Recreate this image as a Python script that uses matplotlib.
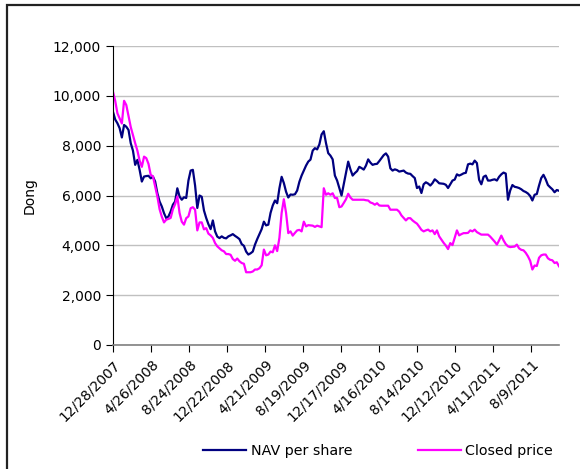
import numpy as np
import pandas as pd
import matplotlib
matplotlib.use("Agg")
import matplotlib.pyplot as plt
from matplotlib.patches import Rectangle

# weekly observations starting 28 Dec 2007
start_date = "2007-12-28"
tick_step_days = 120
num_ticks = 12

nav_per_share = [
    9360, 9050, 8900, 8700, 8330, 8830, 8760, 8630, 8100, 7800,
    7230, 7430, 7030, 6560, 6760, 6780, 6790, 6690, 6760, 6560,
    6090, 5760, 5560, 5290, 5090, 5160, 5360, 5630, 5760, 6290,
    5960, 5830, 5930, 5900, 6600, 7000, 7030, 6400, 5500, 6000,
    5950, 5400, 5100, 4850, 4650, 5000, 4560, 4350, 4290, 4360,
    4300, 4280, 4360, 4400, 4450, 4380, 4320, 4250, 4050, 3980,
    3750, 3630, 3680, 3750, 4030, 4250, 4450, 4650, 4950, 4800,
    4830, 5300, 5600, 5800, 5690, 6290, 6750, 6500, 6150, 5920,
    6040, 6030, 6050, 6200, 6550, 6800, 7000, 7200, 7360, 7440,
    7800, 7900, 7850, 8050, 8450, 8580, 8100, 7700, 7600, 7450,
    6800, 6600, 6300, 6000, 6450, 6900, 7360, 7050, 6800, 6900,
    6980, 7150, 7100, 7040, 7200, 7450, 7320, 7230, 7260, 7270,
    7380, 7500, 7620, 7690, 7560, 7090, 7000, 7050, 7020, 6960,
    6980, 7000, 6920, 6880, 6870, 6780, 6700, 6300, 6360, 6100,
    6450, 6530, 6480, 6400, 6500, 6650, 6580, 6490, 6480, 6470,
    6430, 6300, 6450, 6600, 6640, 6850, 6800, 6840, 6890, 6910,
    7250, 7280, 7250, 7400, 7300, 6630, 6450, 6750, 6800, 6600,
    6600, 6630, 6650, 6600, 6750, 6850, 6920, 6880, 5830, 6200,
    6420, 6350, 6330, 6300, 6250, 6180, 6140, 6080, 5980, 5800,
    6030, 6060, 6400, 6700, 6830, 6650, 6420, 6330, 6250, 6130,
    6220, 6190,
]

closed_price = [
    10160, 9800, 9300, 9100, 8890, 9800, 9630, 9200, 8750, 8420,
    8100, 7800, 7400, 7150, 7560, 7500, 7270, 6830, 6770, 6360,
    5960, 5450, 5150, 4920, 5030, 5060, 5100, 5450, 5650, 5960,
    5300, 4950, 4830, 5090, 5160, 5490, 5530, 5430, 4600, 4920,
    4920, 4640, 4690, 4470, 4400, 4300, 4090, 3960, 3880, 3800,
    3760, 3650, 3650, 3620, 3450, 3380, 3470, 3360, 3290, 3260,
    2920, 2920, 2920, 2950, 3030, 3030, 3080, 3200, 3830, 3600,
    3630, 3750, 3720, 4000, 3770, 4300, 5300, 5850, 5300, 4490,
    4560, 4390, 4500, 4600, 4620, 4560, 4950, 4760, 4810, 4800,
    4790, 4740, 4790, 4760, 4730, 6290, 6030, 6090, 6030, 6090,
    5900, 5900, 5530, 5560, 5700, 5850, 6070, 5920, 5830, 5830,
    5830, 5830, 5830, 5830, 5810, 5800, 5720, 5690, 5630, 5690,
    5600, 5590, 5590, 5590, 5590, 5430, 5430, 5430, 5430, 5350,
    5200, 5100, 5000, 5090, 5090, 5000, 4930, 4870, 4750, 4620,
    4560, 4600, 4630, 4560, 4600, 4450, 4600, 4360, 4230, 4100,
    3990, 3850, 4090, 4010, 4300, 4600, 4400, 4450, 4490, 4490,
    4500, 4600, 4560, 4630, 4530, 4480, 4430, 4430, 4430, 4430,
    4350, 4250, 4150, 4030, 4200, 4390, 4200, 4050, 3960, 3930,
    3940, 3950, 4030, 3880, 3820, 3800, 3700, 3560, 3380, 3030,
    3190, 3170, 3500, 3600, 3630, 3630, 3480, 3420, 3400, 3290,
    3320, 3160,
]

dates = pd.date_range(start_date, periods=len(nav_per_share), freq="7D")
tick_dates = pd.date_range(start_date, periods=num_ticks, freq=f"{tick_step_days}D")

fig = plt.figure(figsize=(5.8, 4.69), dpi=100)
ax = fig.add_axes([0.1948, 0.2644, 0.769, 0.6375])

# outer chart border (runs off the right and bottom edges)
fig.patches.append(Rectangle((7 / 580, -0.05), 1.0, 1.05 - 5 / 469,
                             transform=fig.transFigure, fill=False,
                             edgecolor="#222222", linewidth=1.6))

ax.plot(dates, nav_per_share, color="#000080", linewidth=1.6, label="NAV per share")
ax.plot(dates, closed_price, color="#FF00FF", linewidth=1.6, label="Closed price")

ax.set_ylim(0, 12000)
ax.set_yticks(np.arange(0, 12001, 2000))
ax.yaxis.set_major_formatter(matplotlib.ticker.FuncFormatter(lambda v, p: f"{int(v):,}"))
ax.grid(axis="y", color="#c0c0c0", linewidth=1)
ax.set_axisbelow(True)

ax.set_xlim(dates[0], dates[-1])
ax.set_xticks(tick_dates)
ax.set_xticklabels([f"{d.month}/{d.day}/{d.year}" for d in tick_dates],
                   rotation=45, ha="right", rotation_mode="anchor")

for s in ["top", "right"]:
    ax.spines[s].set_visible(False)
ax.spines["left"].set_color("black")
ax.spines["bottom"].set_color("#808080")
ax.spines["bottom"].set_linewidth(1.2)
ax.tick_params(axis="both", direction="out", length=5, labelsize=10, colors="black")
ax.tick_params(axis="x", pad=4)
ax.set_ylabel("Dong", fontsize=10, labelpad=12)

fig.legend(loc="center", bbox_to_anchor=(0.652, 0.038), ncol=2, frameon=False,
           fontsize=10.3, handlelength=3.0, handletextpad=0.3, columnspacing=4.6)

fig.savefig("out.png", dpi=100)
